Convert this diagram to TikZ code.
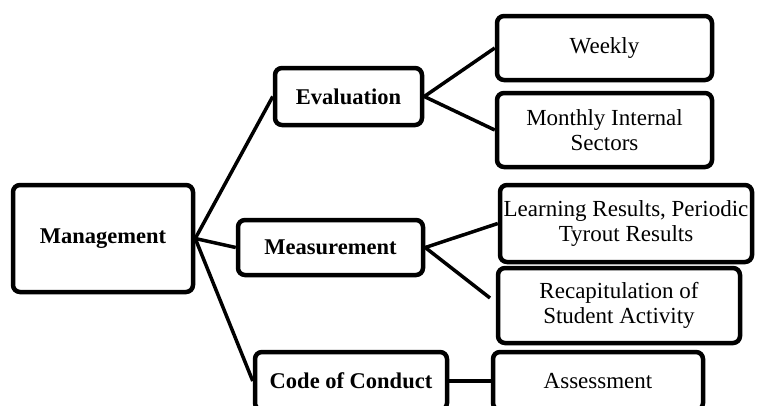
\documentclass[tikz,border=0pt]{standalone}
\usepackage{fontspec}
\setmainfont{Liberation Serif}
\begin{document}
\begin{tikzpicture}[x=1pt,y=-1pt,
  box/.style={draw, line width=4.5pt, rounded corners=7pt, align=center, inner sep=0pt,
    font=\fontsize{23}{25}\selectfont},
  bbox/.style={box, font=\fontsize{22.5}{25}\selectfont\bfseries},
  link/.style={line width=3.5pt}]
\clip (0,0) rectangle (766,405);
\fill[white] (0,0) rectangle (766,405);
\node[bbox, minimum width=180pt, minimum height=107pt] (mg) at (103,238.5) {Management};
\node[bbox, minimum width=147pt, minimum height=57pt] (ev) at (348.5,96.5) {Evaluation};
\node[bbox, minimum width=185pt, minimum height=55pt] (ms) at (330.5,247.5) {Measurement};
\node[bbox, minimum width=192pt, minimum height=58pt] (cc) at (351,381) {Code of Conduct};
\node[box, minimum width=215pt, minimum height=64pt] (wk) at (604.5,48) {Weekly};
\node[box, minimum width=215pt, minimum height=74pt] (mo) at (604.5,130) {Monthly Internal\\Sectors};
\node[box, minimum width=252pt, minimum height=77pt] (lr) at (626,223.5) {Learning Results, Periodic\\Tyrout Results};
\node[box, minimum width=242pt, minimum height=75pt] (rc) at (619,305.5) {Recapitulation of\\Student Activity};
\node[box, minimum width=210pt, minimum height=58pt] (as) at (598,381) {Assessment};
\coordinate (rcend) at (490,298);
\draw[link] (mg.east) -- (ev.west);
\draw[link] (mg.east) -- (ms.west);
\draw[link] (mg.east) -- (cc.west);
\draw[link] (ev.east) -- (wk.west);
\draw[link] (ev.east) -- (mo.west);
\draw[link] (ms.east) -- (lr.west);
\draw[link] (ms.east) -- (rcend);
\draw[link] (cc.east) -- (as.west);
\end{tikzpicture}
\end{document}
